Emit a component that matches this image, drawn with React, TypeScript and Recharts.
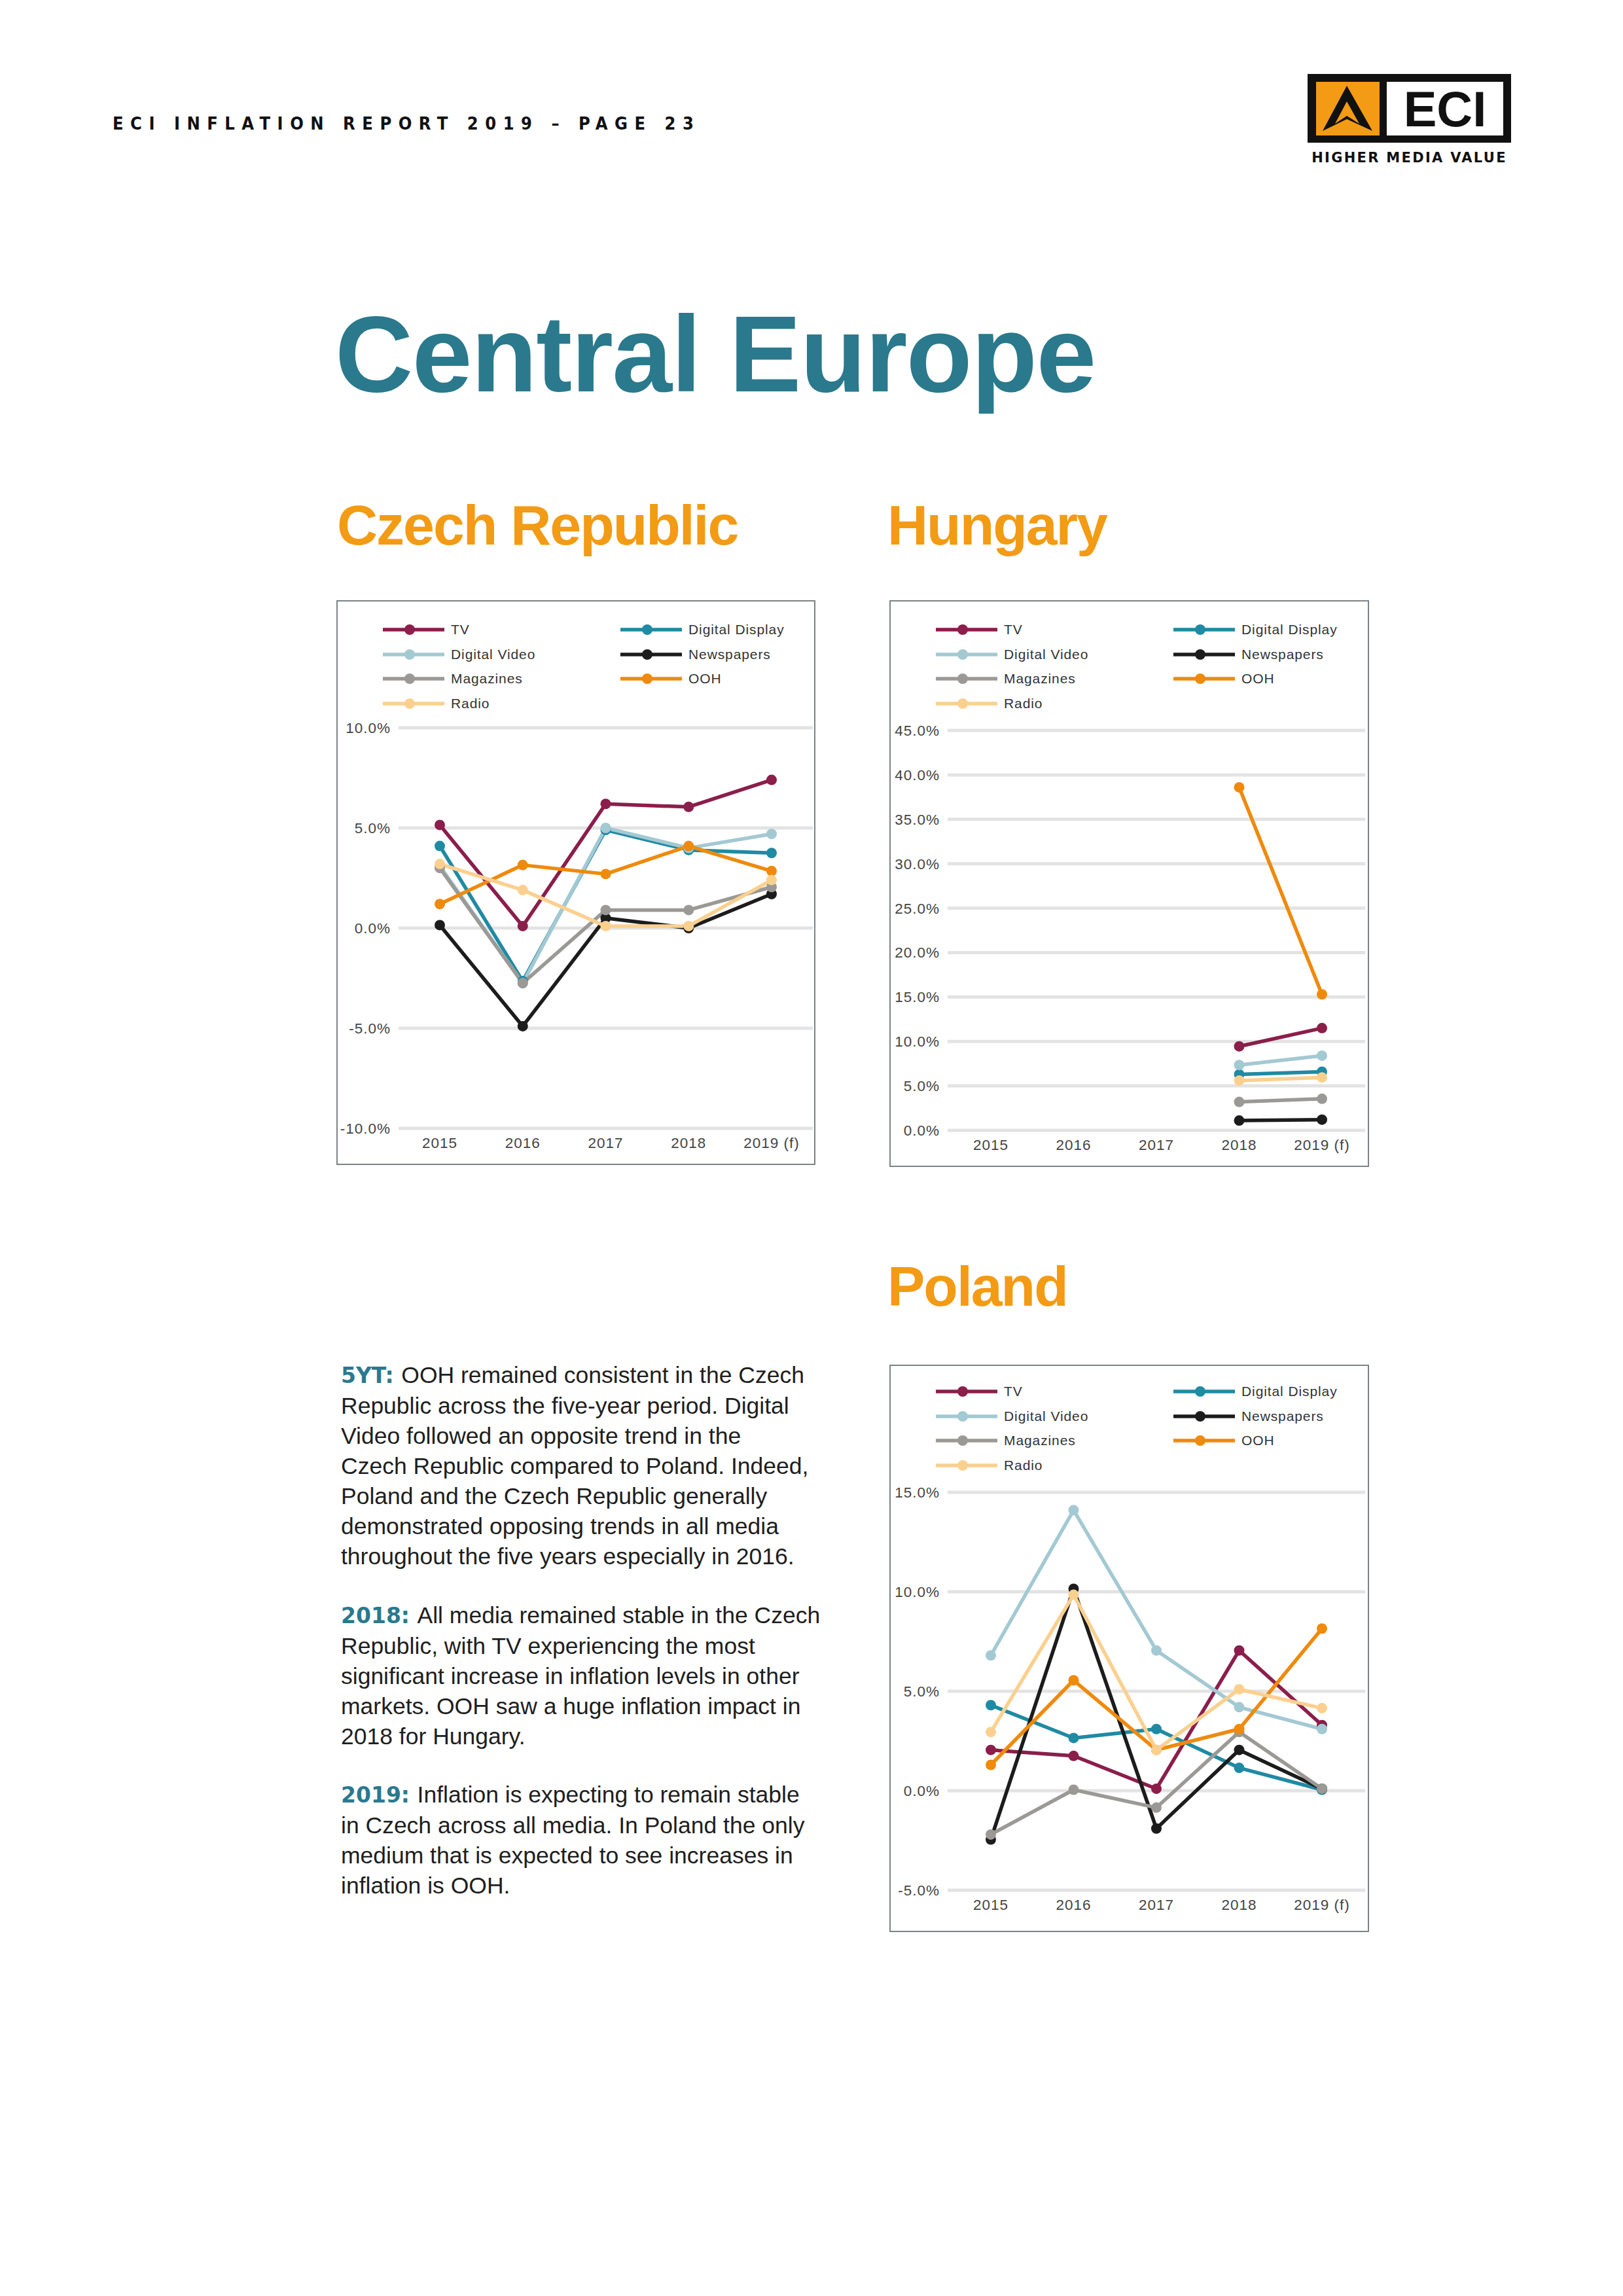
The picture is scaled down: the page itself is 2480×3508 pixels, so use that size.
import { LineChart, Line, XAxis, YAxis, CartesianGrid } from "recharts";

const years = ["2015", "2016", "2017", "2018", "2019 (f)"];
const seriesNames = ["TV", "Digital Display", "Digital Video", "Newspapers", "Magazines", "OOH", "Radio"];
const seriesColors = ["#8b1e4b", "#1f8aa3", "#a3c9d3", "#1c1c1c", "#9b9995", "#ef8a0c", "#fbd08f"];

// Czech Republic
const czTV = [5.15, 0.1, 6.2, 6.05, 7.4];
const czDigitalDisplay = [4.1, -2.65, 4.9, 3.9, 3.75];
const czDigitalVideo = [3.1, -2.75, 5.0, 4.0, 4.7];
const czNewspapers = [0.15, -4.9, 0.5, 0.0, 1.7];
const czMagazines = [3.0, -2.75, 0.9, 0.9, 2.05];
const czOOH = [1.2, 3.15, 2.7, 4.1, 2.85];
const czRadio = [3.2, 1.9, 0.1, 0.1, 2.4];

// Hungary (only 2018 and 2019 reported)
const huTV = [null, null, null, 9.45, 11.5];
const huDigitalDisplay = [null, null, null, 6.3, 6.6];
const huDigitalVideo = [null, null, null, 7.35, 8.4];
const huNewspapers = [null, null, null, 1.1, 1.2];
const huMagazines = [null, null, null, 3.2, 3.55];
const huOOH = [null, null, null, 38.6, 15.3];
const huRadio = [null, null, null, 5.6, 5.95];

// Poland
const plTV = [2.05, 1.75, 0.1, 7.05, 3.3];
const plDigitalDisplay = [4.3, 2.65, 3.1, 1.15, 0.05];
const plDigitalVideo = [6.8, 14.1, 7.05, 4.2, 3.1];
const plNewspapers = [-2.45, 10.15, -1.9, 2.05, 0.1];
const plMagazines = [-2.2, 0.05, -0.85, 2.95, 0.1];
const plOOH = [1.3, 5.55, 2.05, 3.1, 8.15];
const plRadio = [2.95, 9.85, 2.05, 5.1, 4.15];

const czTicks = [-10, -5, 0, 5, 10];
const huTicks = [0, 5, 10, 15, 20, 25, 30, 35, 40, 45];
const plTicks = [-5, 0, 5, 10, 15];

const keys = ["tv", "dd", "dv", "news", "mag", "ooh", "radio"];

function buildRows(series: (number | null)[][]) {
  return years.map((year, i) => {
    const row: Record<string, string | number | null> = { year };
    keys.forEach((k, s) => {
      row[k] = series[s][i];
    });
    return row;
  });
}

const czRows = buildRows([czTV, czDigitalDisplay, czDigitalVideo, czNewspapers, czMagazines, czOOH, czRadio]);
const huRows = buildRows([huTV, huDigitalDisplay, huDigitalVideo, huNewspapers, huMagazines, huOOH, huRadio]);
const plRows = buildRows([plTV, plDigitalDisplay, plDigitalVideo, plNewspapers, plMagazines, plOOH, plRadio]);

const SANS = '"Liberation Sans", Arial, sans-serif';
const TEAL = "#2a798d";
const ORANGE = "#f39b14";

function LegendBlock({ top }: { top: number }) {
  return (
    <>
      {seriesNames.map((name, i) => {
        const col = i % 2;
        const row = Math.floor(i / 2);
        const x = col === 0 ? 71 : 434;
        const y = top + row * 37.5;
        return (
          <div
            key={name}
            style={{ position: "absolute", left: x, top: y - 10, height: 20, display: "flex", alignItems: "center" }}
          >
            <svg width={94} height={20} style={{ display: "block" }}>
              <line x1={0} x2={94} y1={10} y2={10} stroke={seriesColors[i]} strokeWidth={5.5} />
              <circle cx={41} cy={10} r={8} fill={seriesColors[i]} />
            </svg>
            <span
              style={{
                marginLeft: 10,
                fontFamily: SANS,
                fontSize: 21,
                letterSpacing: 0.9,
                color: "#333",
                whiteSpace: "nowrap",
                lineHeight: "20px",
              }}
            >
              {name}
            </span>
          </div>
        );
      })}
    </>
  );
}

interface PanelProps {
  left: number;
  top: number;
  width: number;
  height: number;
  rows: Record<string, string | number | null>[];
  ticks: number[];
  margin: { top: number; right: number; bottom: number; left: number };
  axisWidth: number;
  pad: number;
  legendTop: number;
}

function Panel({ left, top, width, height, rows, ticks, margin, axisWidth, pad, legendTop }: PanelProps) {
  const tickStyle = { fontSize: 22.5, fill: "#444", fontFamily: SANS, letterSpacing: 1 };
  return (
    <div
      style={{
        position: "absolute",
        left,
        top,
        width,
        height,
        boxShadow: "inset 0 0 0 2px #7c8287",
        background: "#fff",
      }}
    >
      <LineChart width={width} height={height} data={rows} margin={margin}>
        <CartesianGrid vertical={false} stroke="#e3e3e3" strokeWidth={5} />
        <XAxis
          dataKey="year"
          height={30}
          axisLine={false}
          tickLine={false}
          tick={tickStyle}
          tickMargin={8}
          padding={{ left: pad, right: pad }}
          interval={0}
        />
        <YAxis
          width={axisWidth}
          domain={[ticks[0], ticks[ticks.length - 1]]}
          ticks={ticks}
          axisLine={false}
          tickLine={false}
          tick={tickStyle}
          tickMargin={6}
          tickFormatter={(v: number) => `${v.toFixed(1)}%`}
          interval={0}
        />
        {keys.map((k, i) => (
          <Line
            key={k}
            type="linear"
            dataKey={k}
            stroke={seriesColors[i]}
            strokeWidth={5.5}
            strokeLinejoin="round"
            dot={{ r: 8, fill: seriesColors[i], stroke: seriesColors[i], strokeWidth: 0 }}
            activeDot={false}
            connectNulls={false}
            isAnimationActive={false}
          />
        ))}
      </LineChart>
      <LegendBlock top={legendTop} />
    </div>
  );
}

const para1 = [
  "OOH remained consistent in the Czech",
  "Republic across the five-year period. Digital",
  "Video followed an opposite trend in the",
  "Czech Republic compared to Poland. Indeed,",
  "Poland and the Czech Republic generally",
  "demonstrated opposing trends in all media",
  "throughout the five years especially in 2016.",
];
const para2 = [
  "All media remained stable in the Czech",
  "Republic, with TV experiencing the most",
  "significant increase in inflation levels in other",
  "markets. OOH saw a huge inflation impact in",
  "2018 for Hungary.",
];
const para3 = [
  "Inflation is expecting to remain stable",
  "in Czech across all media. In Poland the only",
  "medium that is expected to see increases in",
  "inflation is OOH.",
];

function Paragraph({ top, label, lines }: { top: number; label: string; lines: string[] }) {
  return (
    <div
      style={{
        position: "absolute",
        left: 521,
        top,
        fontFamily: SANS,
        fontSize: 35.5,
        lineHeight: "46px",
        color: "#1e1e1e",
        whiteSpace: "nowrap",
      }}
    >
      {lines.map((line, i) => (
        <div key={i}>
          {i === 0 && (
            <span style={{ fontFamily: '"DejaVu Sans", sans-serif', fontWeight: 700, fontSize: 33, color: TEAL }}>
              {label}{" "}
            </span>
          )}
          {line}
        </div>
      ))}
    </div>
  );
}

function Logo() {
  return (
    <div style={{ position: "absolute", left: 1998, top: 113, width: 311, height: 105, background: "#111" }}>
      <div style={{ position: "absolute", left: 13, top: 12, width: 97, height: 82, background: ORANGE }}>
        <svg width={97} height={82} style={{ display: "block" }}>
          <path
            fillRule="evenodd"
            fill="#111"
            d="M47 6 L86 75 L47 57 L10 75 Z M47 30 L66 64 L47 52 L29 64 Z"
          />
        </svg>
      </div>
      <div
        style={{
          position: "absolute",
          left: 121,
          top: 12,
          width: 178,
          height: 82,
          background: "#fff",
          display: "flex",
          alignItems: "center",
          justifyContent: "center",
          fontFamily: SANS,
          fontWeight: 700,
          fontSize: 76,
          color: "#111",
        }}
      >
        ECI
      </div>
      <div
        style={{
          position: "absolute",
          left: 0,
          top: 116,
          width: 311,
          textAlign: "center",
          fontFamily: '"DejaVu Sans", sans-serif',
          fontWeight: 700,
          fontSize: 21,
          letterSpacing: 2.3,
          color: "#111",
          whiteSpace: "nowrap",
        }}
      >
        HIGHER MEDIA VALUE
      </div>
    </div>
  );
}

export default function App() {
  return (
    <div style={{ position: "absolute", left: 0, top: 0, width: 2480, height: 3508, background: "#fff" }}>
      <div
        style={{
          position: "absolute",
          left: 172,
          top: 176,
          fontFamily: '"Liberation Sans Narrow", "DejaVu Sans Condensed", sans-serif',
          fontWeight: 700,
          fontSize: 27,
          lineHeight: "26px",
          letterSpacing: 10.5,
          color: "#111",
          whiteSpace: "nowrap",
        }}
      >
        ECI INFLATION REPORT 2019 – PAGE 23
      </div>
      <Logo />

      <div
        style={{
          position: "absolute",
          left: 512,
          top: 459,
          fontFamily: SANS,
          fontWeight: 700,
          fontSize: 165,
          lineHeight: "165px",
          letterSpacing: -1.5,
          color: TEAL,
          whiteSpace: "nowrap",
        }}
      >
        Central Europe
      </div>

      {[
        { text: "Czech Republic", left: 515, top: 759 },
        { text: "Hungary", left: 1356, top: 759 },
        { text: "Poland", left: 1356, top: 1922 },
      ].map((h) => (
        <div
          key={h.text}
          style={{
            position: "absolute",
            left: h.left,
            top: h.top,
            fontFamily: SANS,
            fontWeight: 700,
            fontSize: 86,
            lineHeight: "86px",
            letterSpacing: -2,
            color: ORANGE,
            whiteSpace: "nowrap",
          }}
        >
          {h.text}
        </div>
      ))}

      <Panel
        left={514}
        top={917}
        width={732}
        height={863}
        rows={czRows}
        ticks={czTicks}
        margin={{ top: 195, right: 4, bottom: 26, left: 0 }}
        axisWidth={95}
        pad={63}
        legendTop={45}
      />
      <Panel
        left={1359}
        top={917}
        width={733}
        height={866}
        rows={huRows}
        ticks={huTicks}
        margin={{ top: 199, right: 6, bottom: 26, left: 0 }}
        axisWidth={89}
        pad={66}
        legendTop={45}
      />
      <Panel
        left={1359}
        top={2085}
        width={733}
        height={867}
        rows={plRows}
        ticks={plTicks}
        margin={{ top: 195, right: 6, bottom: 34, left: 0 }}
        axisWidth={89}
        pad={66}
        legendTop={41}
      />

      <Paragraph top={2078} label="5YT:" lines={para1} />
      <Paragraph top={2445} label="2018:" lines={para2} />
      <Paragraph top={2719} label="2019:" lines={para3} />
    </div>
  );
}
